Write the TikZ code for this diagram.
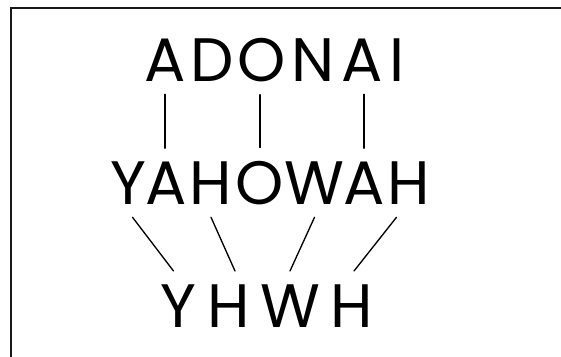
\documentclass[tikz,border=0pt]{standalone}
\usepackage{fontspec}
\setmainfont{Poppins}
\usetikzlibrary{calc}

\tikzset{
  letter/.style={anchor=base,inner sep=9.75pt,font=\fontsize{46}{46}\selectfont},
  link/.style={line width=1pt,line cap=round}
}

\begin{document}
\begin{tikzpicture}[x=.75pt,y=-.75pt]
        \useasboundingbox (0,0) rectangle (561,357);
        \draw[line width=1.5pt,color=black!90] (561,8) -- (11,8) -- (11,357);
        % ADONAI
        \foreach \n/\c/\x in {a1/A/165,a2/D/212,a3/O/261.5,a4/N/313,a5/A/362,a6/I/397}
          \node[letter] (\n) at (\x,81) {\c};
        % YAHOWAH
        \foreach \n/\c/\x in {y1/Y/128.5,y2/A/166,y3/H/211,y4/O/259.5,y5/W/314.5,y6/A/364,y7/H/409}
          \node[letter] (\n) at (\x,204) {\c};
        % YHWH
        \foreach \n/\c/\x in {h1/Y/178,h2/H/228.5,h3/W/290,h4/H/352}
          \node[letter] (\n) at (\x,327) {\c};
        \draw[link] (a1.south) -- (a1.south |- y2.north);
        \draw[link] ($(a3.south)+(-1.5,0)$) -- ($(a3.south |- y4.north)+(-1.5,0)$);
        \draw[link] ($(y6.north |- a5.south)$) -- (y6.north);
        \draw[link] ($(y1.south)+(4,0)$) -- ($(h1.north)+(-4.5,0)$);
        \draw[link] (y3.south) -- ($(h2.north)+(6.5,0)$);
        \draw[link] (y5.south) -- (h3.north);
        \draw[link] ($(y7.south)+(-12.5,0)$) -- ($(h4.north)+(2,0)$);
      \end{tikzpicture}
\end{document}
